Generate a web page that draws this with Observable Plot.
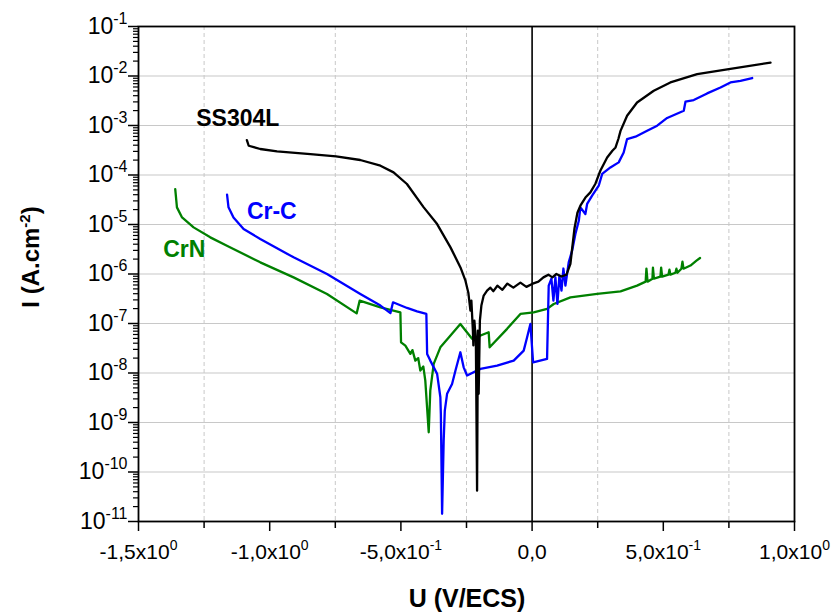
<!DOCTYPE html>
<html><head><meta charset="utf-8">
<script src="https://cdn.jsdelivr.net/npm/d3@7"></script>
<script src="https://cdn.jsdelivr.net/npm/@observablehq/plot@0.6"></script>
<style>
body{margin:0;background:#fff}
#chart svg{font-family:"Liberation Sans",Arial,sans-serif;background:#fff}
</style>
</head><body><div id="chart"></div>
<script>
// SS304L (black)
const ssU = [-1.087,-1.080,-1.036,-0.972,-0.845,-0.747,-0.655,-0.578,-0.528,-0.477,-0.413,-0.362,-0.311,-0.273,-0.254,-0.243,-0.235,-0.2314,-0.2257,-0.2238,-0.220,-0.2143,-0.2097,-0.2066,-0.2036,-0.199,-0.1933,-0.1845,-0.1716,-0.159,-0.1475,-0.1323,-0.1132,-0.0942,-0.0713,-0.0446,-0.0217,0,0.024,0.0431,0.0621,0.0774,0.0926,0.1117,0.131,0.146,0.1517,0.1613,0.1727,0.184,0.2032,0.222,0.2413,0.260,0.286,0.306,0.318,0.329,0.337,0.362,0.400,0.4636,0.527,0.629,0.7496,0.9085];
const ssI = [5.08e-4,3.9e-4,3.35e-4,2.99e-4,2.65e-4,2.37e-4,2.01e-4,1.54e-4,1.13e-4,6.58e-5,2.22e-5,1.02e-5,3.45e-6,1.36e-6,7.34e-7,4.2e-7,1.82e-7,2.9e-7,7.2e-8,3.6e-8,1.14e-7,4.5e-8,4.2e-11,7.2e-8,3.8e-9,1.14e-7,2.3e-7,3.66e-7,4.6e-7,5.3e-7,4.5e-7,5.8e-7,4.8e-7,6.4e-7,5.3e-7,6.7e-7,5.5e-7,6.3e-7,7.0e-7,8.55e-7,9.7e-7,8.55e-7,1.0e-6,8.9e-7,9.7e-7,1.6e-6,2.96e-6,8.2e-6,1.73e-5,2.4e-5,3.5e-5,4.45e-5,6.67e-5,1.22e-4,2.26e-4,3.09e-4,3.6e-4,5.4e-4,7.8e-4,1.57e-3,2.92e-3,5.03e-3,7.4e-3,1.09e-2,1.38e-2,1.87e-2];
// Cr-C (blue)
const crcU = [-1.1625,-1.157,-1.138,-1.0995,-1.036,-0.909,-0.7816,-0.6546,-0.578,-0.540,-0.530,-0.4766,-0.4384,-0.403,-0.400,-0.388,-0.362,-0.3496,-0.3477,-0.343,-0.337,-0.3327,-0.324,-0.305,-0.292,-0.2734,-0.2608,-0.2478,-0.197,-0.1334,-0.0701,-0.032,-0.019,-0.0065,0.0038,0.057,0.0633,0.0736,0.0812,0.0888,0.0965,0.104,0.112,0.1193,0.127,0.1395,0.1525,0.165,0.178,0.184,0.203,0.2097,0.2288,0.254,0.267,0.2985,0.330,0.349,0.362,0.394,0.4384,0.4766,0.5147,0.578,0.5845,0.616,0.667,0.718,0.756,0.794,0.8387];
const crcI = [4.0e-5,2.22e-5,1.39e-5,8.1e-6,5.1e-6,2.17e-6,1.0e-6,3.95e-7,2.3e-7,1.62e-7,2.68e-7,2.06e-7,1.76e-7,1.56e-7,2.43e-8,1.78e-8,9.6e-9,3.24e-9,1.49e-9,1.43e-11,4.3e-10,1.74e-9,3.8e-9,6.0e-9,1.12e-8,2.62e-8,1.3e-8,8.9e-9,1.21e-8,1.41e-8,1.78e-8,2.83e-8,5.26e-8,9.8e-8,1.64e-8,1.93e-8,5.8e-7,8.05e-7,2.9e-7,8.55e-7,2.5e-7,9.3e-7,4.6e-7,1.29e-6,5.8e-7,1.72e-6,2.96e-6,6.44e-6,1.19e-5,2.22e-5,1.63e-5,2.6e-5,3.82e-5,6.08e-5,1.05e-4,1.42e-4,1.8e-4,2.86e-4,5.33e-4,5.93e-4,7.83e-4,9.9e-4,1.42e-3,1.99e-3,3.02e-3,3.27e-3,4.45e-3,5.86e-3,7.4e-3,8.0e-3,9.1e-3];
// CrN (green)
const crnU = [-1.360,-1.3535,-1.334,-1.290,-1.2265,-1.163,-1.036,-0.909,-0.7816,-0.6687,-0.657,-0.578,-0.502,-0.4995,-0.483,-0.464,-0.456,-0.445,-0.434,-0.426,-0.4145,-0.407,-0.394,-0.388,-0.375,-0.3496,-0.311,-0.2734,-0.2287,-0.1655,-0.1617,-0.0953,-0.0446,0.006,0.057,0.0824,0.146,0.2478,0.337,0.400,0.4327,0.4357,0.440,0.4586,0.4605,0.4643,0.489,0.4918,0.4956,0.5196,0.5234,0.5273,0.5463,0.550,0.5539,0.569,0.573,0.577,0.6035,0.6264,0.640];
const crnI = [5.2e-5,2.22e-5,1.39e-5,8.75e-6,5.5e-6,3.73e-6,1.72e-6,8.55e-7,3.95e-7,1.6e-7,2.9e-7,2.12e-7,1.68e-7,4.17e-8,3.57e-8,2.43e-8,2.9e-8,1.78e-8,2.0e-8,1.12e-8,1.35e-8,7.0e-9,6.35e-10,4.4e-9,1.53e-8,3.3e-8,5.7e-8,9.8e-8,4.9e-8,6.64e-8,3.3e-8,7.8e-8,1.56e-7,1.68e-7,1.97e-7,2.48e-7,3.38e-7,3.95e-7,4.47e-7,5.82e-7,7.0e-7,1.28e-6,7.0e-7,8.05e-7,1.34e-6,8.05e-7,8.83e-7,1.34e-6,8.83e-7,9.7e-7,1.22e-6,9.7e-7,1.06e-6,1.28e-6,1.06e-6,1.28e-6,1.78e-6,1.28e-6,1.48e-6,1.86e-6,2.1e-6];

const seriesNames = ["CrN", "Cr-C", "SS304L"];
const seriesColors = ["#008000", "#0000ff", "#000000"];
// label anchor positions (data units)
const labelU = [-1.3256, -0.992, -1.1216];
const labelI = [3.1e-6, 1.82e-5, 1.37e-3];

const yTickValues = [1e-1,1e-2,1e-3,1e-4,1e-5,1e-6,1e-7,1e-8,1e-9,1e-10,1e-11];
const yTickExponents = ["-1","-2","-3","-4","-5","-6","-7","-8","-9","-10","-11"];
const xTickValues = [-1.5,-1.0,-0.5,0,0.5,1.0];
const xTickLabels = ["-1,5x10^0","-1,0x10^0","-5,0x10^-1","0,0","5,0x10^-1","1,0x10^0"];
const xMinorTicks = [-1.25,-0.75,-0.25,0.25,0.75];
const xTitle = "U (V/ECS)";
const yTitle = "I (A.cm^-2^)";

const yMinor = [];
for (let e = -11; e < -1; e++) for (let k = 2; k <= 9; k++) yMinor.push(k * Math.pow(10, e));

const mk = (name, U, I) => U.map((u, i) => ({name, U: u, I: I[i]}));
const series = [mk("CrN", crnU, crnI), mk("Cr-C", crcU, crcI), mk("SS304L", ssU, ssI)];
const labels = seriesNames.map((n, i) => ({name: n, U: labelU[i], I: labelI[i], color: seriesColors[i]}));

const plot = Plot.plot({
  width: 831, height: 612,
  marginLeft: 138, marginRight: 37, marginTop: 26, marginBottom: 91,
  x: {domain: [-1.5, 1.0]},
  y: {type: "log", domain: [1e-11, 1e-1]},
  style: {fontFamily: '"Liberation Sans", Arial, sans-serif', fontSize: "21px", color: "black", background: "white"},
  marks: [
    Plot.ruleY(yTickValues, {stroke: "#c8c8c8", strokeWidth: 1.2}),
    Plot.ruleX(xMinorTicks, {stroke: "#c8c8c8", strokeWidth: 1, strokeDasharray: "4,3"}),
    Plot.ruleX([0], {stroke: "#000", strokeWidth: 1.6}),
    ...series.map((s, i) => Plot.line(s, {x: "U", y: "I", stroke: seriesColors[i], strokeWidth: 2.3, strokeLinejoin: "round"})),
    Plot.text(labels, {x: "U", y: "I", text: "name", fill: "color", fontWeight: "bold", fontSize: 23, textAnchor: "middle", lineAnchor: "middle"}),
    Plot.axisY(yTickValues, {anchor: "left", tickSize: 10, tickPadding: 1, strokeWidth: 1.5, fontSize: 23, label: null,
      tickFormat: d => "10^" + yTickExponents[yTickValues.indexOf(d)]}),
    Plot.axisY(yMinor, {anchor: "left", tickSize: 5, strokeWidth: 1.2, label: null, tickFormat: () => ""}),
    Plot.axisX(xTickValues, {anchor: "bottom", tickSize: 10, tickPadding: 13, strokeWidth: 1.5, fontSize: 21, label: null,
      tickFormat: d => "x" + xTickLabels[xTickValues.indexOf(d)]}),
    Plot.axisX(xMinorTicks, {anchor: "bottom", tickSize: 7, strokeWidth: 1.5, label: null, tickFormat: () => ""}),
    Plot.frame({stroke: "#000", strokeWidth: 1.8})
  ]
});

const NS = "http://www.w3.org/2000/svg";
function supify(t, supSize, shift) {
  let s = t.textContent;
  if (s.startsWith("x")) { s = s.slice(1); t.textContent = s; supSize = 14; shift = 9; }
  if (!s.includes("^")) return;
  const parts = s.split("^");
  while (t.firstChild) t.removeChild(t.firstChild);
  parts.forEach((p, i) => {
    if (p === "") return;
    const ts = document.createElementNS(NS, "tspan");
    if (i % 2 === 1) { ts.setAttribute("dy", -shift); ts.setAttribute("font-size", supSize); }
    else if (i > 0) { ts.setAttribute("dy", shift); }
    ts.textContent = p;
    t.appendChild(ts);
  });
}
plot.querySelectorAll("text").forEach(t => supify(t, 16, 10));

const svg = d3.select(plot);
svg.append("text").attr("x", 467).attr("y", 607).attr("text-anchor", "middle")
  .attr("font-weight", "bold").attr("font-size", 25).attr("fill", "#000").text(xTitle);
const yt = svg.append("text").attr("transform", "translate(39,257) rotate(-90)").attr("text-anchor", "middle")
  .attr("font-weight", "bold").attr("font-size", 24).attr("fill", "#000").text(yTitle);
supify(yt.node(), 15, 9);

document.getElementById("chart").appendChild(plot);
</script>
</body></html>
